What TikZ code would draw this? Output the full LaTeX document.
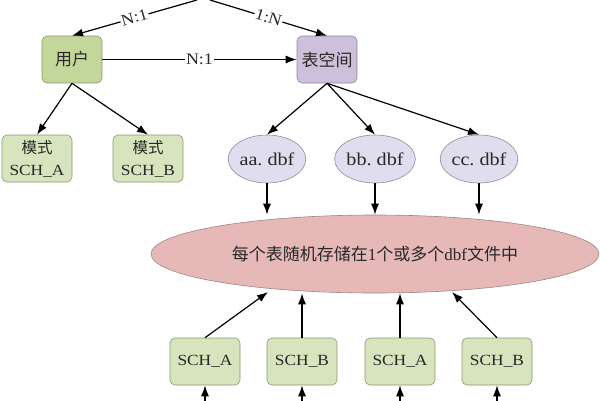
\documentclass[tikz,border=0pt]{standalone}
\usepackage{fontspec}
\setmainfont{Liberation Serif}
\newfontfamily\widefont[FakeStretch=1.12]{Liberation Serif}
\newfontfamily\cjk{Noto Sans CJK SC}
\usetikzlibrary{arrows.meta,shapes.geometric}
\definecolor{textc}{HTML}{282828}
\definecolor{greenfill}{HTML}{C4D79B}
\definecolor{lightgreen}{HTML}{D7E4BD}
\definecolor{greenborder}{HTML}{8A9A70}
\definecolor{purplefill}{HTML}{CCC0DA}
\definecolor{purpleborder}{HTML}{8F88A0}
\definecolor{lavfill}{HTML}{E0DEEE}
\definecolor{lavborder}{HTML}{8C8C9C}
\definecolor{pinkfill}{HTML}{E6B9B8}
\definecolor{pinkborder}{HTML}{A08585}
\begin{document}
\begin{tikzpicture}[x=1pt,y=-1pt,
  boxbase/.style={rounded corners=5pt, inner sep=0pt, align=center, text=textc, line width=0.6pt},
  darkbox/.style={boxbase, draw=greenborder, fill=greenfill, minimum width=60pt, minimum height=47pt, font=\cjk\fontsize{17}{19}\selectfont},
  tsbox/.style={boxbase, draw=purpleborder, fill=purplefill, minimum width=60pt, minimum height=47pt, font=\cjk\fontsize{17}{19}\selectfont},
  schbox/.style={boxbase, draw=greenborder, fill=lightgreen, minimum width=70pt, minimum height=47pt, font=\widefont\fontsize{15.5}{22}\selectfont},
  dbf/.style={ellipse, draw=lavborder, fill=lavfill, minimum width=70pt, minimum height=48pt, inner sep=0pt, text=textc, font=\widefont\fontsize{18}{20}\selectfont, line width=0.6pt},
  bigell/.style={ellipse, draw=pinkborder, fill=pinkfill, minimum width=448pt, minimum height=78pt, inner sep=0pt, text=textc, font=\fontsize{17}{20}\selectfont, line width=0.6pt},
  arr/.style={-{Latex[length=11pt,width=8pt]}, line width=1.2pt, black},
  lab/.style={fill=white, inner sep=1pt, text=textc, font=\widefont\fontsize{16}{17}\selectfont}
]
\useasboundingbox (0,0) rectangle (600,400);
\fill[white] (0,0) rectangle (600,400);

% top row
\node[darkbox] (user) at (72,59.5) {用户};
\node[tsbox] (ts) at (327,59.5) {表空间};

% off-picture connector starts
\coordinate (tl) at (197,0);
\coordinate (tr) at (210,0);
\draw[arr] (tl) -- node[lab, sloped] {N:1} (user.north);
\draw[arr] (tr) -- node[lab, sloped] {1:N} (ts.north);
\draw[arr] (user.east) -- node[lab] {N:1} (ts.west);

% schemas under user
\node[schbox] (ma) at (37,158.5) {{\cjk 模式}\\SCH\_A};
\node[schbox] (mb) at (148,158.5) {{\cjk 模式}\\SCH\_B};
\draw[arr] (user.south) -- (ma.north);
\draw[arr] (user.south) -- (mb.north);

% dbf files
\node[dbf] (aa) at (267,159) {aa.\ dbf};
\node[dbf] (bb) at (375,159) {bb.\ dbf};
\node[dbf] (cc) at (479,159) {cc.\ dbf};
\draw[arr] (ts.south) -- (aa.north);
\draw[arr] (ts.south) -- (bb.north);
\draw[arr] (ts.south) -- (cc.north);

% big ellipse
\node[bigell] (big) at (375,254) {{\cjk 每个表随机存储在}1{\cjk 个或多个}dbf{\cjk 文件中}};
\draw[arr] (aa.south) -- (aa.south |- big.north);
\draw[arr] (bb.south) -- (bb.south |- big.north);
\draw[arr] (cc.south) -- (cc.south |- big.north);

% bottom schema boxes
\node[schbox] (s1) at (205,361.5) {SCH\_A};
\node[schbox] (s2) at (302,361.5) {SCH\_B};
\node[schbox] (s3) at (400,361.5) {SCH\_A};
\node[schbox] (s4) at (497,361.5) {SCH\_B};
\coordinate (e1) at (268,292);
\coordinate (e4) at (452,292);
\draw[arr] (s1.north) -- (e1);
\draw[arr] (s2.north) -- (s2.north |- big.south);
\draw[arr] (s3.north) -- (s3.north |- big.south);
\draw[arr] (s4.north) -- (e4);

% arrows coming from below
\coordinate (b1) at (205,404);
\coordinate (b2) at (302,404);
\coordinate (b3) at (400,404);
\coordinate (b4) at (497,404);
\draw[arr] (b1) -- (s1.south);
\draw[arr] (b2) -- (s2.south);
\draw[arr] (b3) -- (s3.south);
\draw[arr] (b4) -- (s4.south);
\end{tikzpicture}
\end{document}
